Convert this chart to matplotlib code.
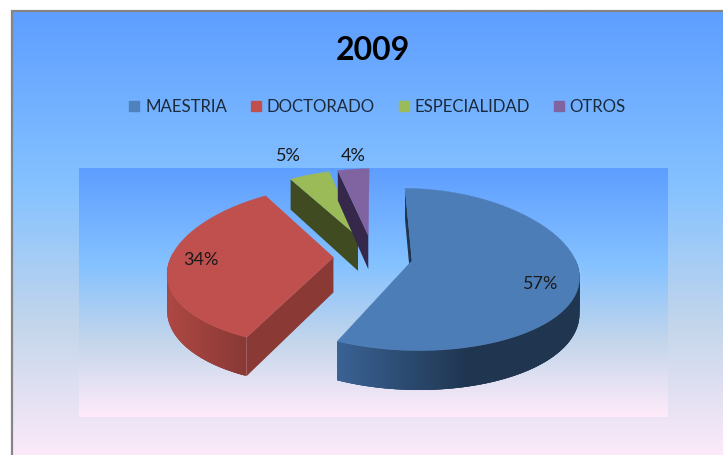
import numpy as np
import matplotlib
matplotlib.use("Agg")
import matplotlib.pyplot as plt
from matplotlib.colors import LinearSegmentedColormap, to_rgb
from matplotlib.patches import Patch

title = "2009"
categories = ["MAESTRIA", "DOCTORADO", "ESPECIALIDAD", "OTROS"]
values = [57, 34, 5, 4]
label_texts = ["57%", "34%", "5%", "4%"]

top_colors = ["#4d7db6", "#c0504d", "#9bbb59", "#8064a2"]
wall_colors = ["#1f3550", "#8a3935", "#404b22", "#35284a"]
legend_colors = ["#4f81bd", "#c0504d", "#9bbb59", "#8064a2"]
label_pos = [(541, 284), (201, 260), (288, 156), (353, 156)]

W, H = 723, 455
plt.rcParams["font.family"] = ["Lato", "DejaVu Sans"]
fig = plt.figure(figsize=(W / 100, H / 100), dpi=100)
fig.patch.set_facecolor("white")
ax = fig.add_axes([0, 0, 1, 1])

daybreak = LinearSegmentedColormap.from_list(
    "daybreak",
    [(0, "#5E9EFF"), (0.39, "#85C2FF"), (0.70, "#C4D6EB"), (1, "#FFEBFA")],
)
grad = np.linspace(0, 1, 256).reshape(-1, 1)
ax.imshow(grad, cmap=daybreak, extent=(13, W, 462, 12), aspect="auto", zorder=0)
ax.imshow(grad, cmap=daybreak, extent=(79, 668, 417, 168), aspect="auto", zorder=1)
ax.set_xlim(0, W)
ax.set_ylim(H, 0)
ax.axis("off")
ax.plot([12, 12, W], [H, 11, 11], color="#858585", lw=1.6, zorder=2,
        solid_joinstyle="miter")

# the wedge angles and explosion come from the library's pie layout
helper = plt.figure().add_subplot()
wedges, _ = helper.pie(values, explode=[0.244] * len(values), startangle=90,
                       counterclock=False)
CX, CY, RX, RY, KX, KY, DEPTH, KD = 373, 256, 162, 80, 0.18, 0.11, 35, 0.12
APEX_Y = 1.1


def project(u, v):
    return CX + RX * u * (1 - KX * v), CY - RY * v * (1 - KY * v)


def down(v):
    return DEPTH * (1 - KD * v)


def shade(color, f):
    return tuple(np.clip(np.array(to_rgb(color)) * f, 0, 1))


shade_ranges = {0: ((340, 470), (1.85, 1.0)), 1: ((170, 245), (1.25, 1.0))}

for i, w in enumerate(wedges):
    cu, cv = w.center[0], w.center[1] * APEX_Y
    th = np.radians(np.linspace(w.theta2, w.theta1, 220))
    u = cu + np.cos(th)
    v = cv + np.sin(th)
    X, Y = project(u, v)
    ax0, ay0 = project(cu, cv)
    dv0 = down(cv)
    d = down(v)
    z = 5 + i * 0.1
    # flat wall on the clockwise-start side
    ax.fill([ax0, X[0], X[0], ax0], [ay0, Y[0], Y[0] + d[0], ay0 + dv0],
            color=wall_colors[i], lw=0, zorder=z)
    # curved outer wall, only where it faces the viewer
    if i in shade_ranges:
        (x0, x1), (f0, f1) = shade_ranges[i]
        for j in range(len(th) - 1):
            if np.sin(th[j]) > 0.03:
                continue
            k = min(j + 3, len(th) - 1)
            f = np.interp(X[j], [x0, x1], [f0, f1])
            c = shade(wall_colors[i], f)
            ax.fill([X[j], X[k], X[k], X[j]],
                    [Y[j], Y[k], Y[k] + d[k], Y[j] + d[j]],
                    color=c, lw=0, zorder=z)
    ax.fill(np.r_[ax0, X], np.r_[ay0, Y], color=top_colors[i], lw=0.3,
            zorder=z + 0.05)

for txt, (x, y) in zip(label_texts, label_pos):
    ax.text(x, y, txt, ha="center", va="center", fontsize=13,
            color="#1a1a1a", zorder=10)

ax.text(373, 51, title, ha="center", va="center", fontsize=23,
        fontweight="bold", color="black", zorder=10)

handles = [Patch(color=c) for c in legend_colors]
leg = ax.legend(handles, categories, ncol=4, frameon=False,
                loc="center", bbox_to_anchor=(377.5 / W, 1 - 107 / H),
                bbox_transform=fig.transFigure, fontsize=12.1,
                handlelength=0.59, handleheight=0.59, handletextpad=0.35,
                columnspacing=1.42, labelcolor="#1c2a3a")
leg.set_zorder(10)

fig.savefig("out.png", dpi=100)
